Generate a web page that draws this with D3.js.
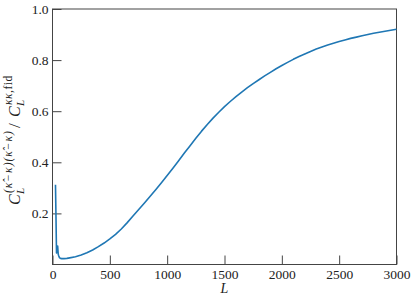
<!DOCTYPE html>
<html>
<head>
<meta charset="utf-8">
<script src="https://cdn.jsdelivr.net/npm/d3@7"></script>
<style>
  body { margin: 0; background: #fff; }
</style>
</head>
<body>
<svg id="chart" width="415" height="305"></svg>
<script>
'use strict'

// multipole L and the ratio
var ells  = [26, 30, 35, 40, 45, 50, 55, 62, 70, 80, 100, 125, 150,
             200, 250, 300, 350, 400, 450, 500, 550, 600, 650, 700, 750,
             800, 850, 900, 950, 1000, 1050, 1100, 1150, 1200, 1250, 1300,
             1350, 1400, 1450, 1500, 1550, 1600, 1650, 1700, 1750, 1800,
             1850, 1900, 1950, 2000, 2050, 2100, 2150, 2200, 2250, 2300,
             2350, 2400, 2450, 2500, 2550, 2600, 2650, 2700, 2750, 2800,
             2850, 2900, 2950, 3000]
var ratio = [0.312, 0.200, 0.045, 0.052, 0.072, 0.040, 0.033, 0.026, 0.024, 0.023, 0.023, 0.024, 0.026,
             0.030, 0.037, 0.046, 0.057, 0.070, 0.084, 0.100, 0.118, 0.139, 0.163, 0.189, 0.214,
             0.240, 0.266, 0.293, 0.320, 0.348, 0.377, 0.406, 0.436, 0.465, 0.494, 0.522,
             0.548, 0.573, 0.596, 0.618, 0.638, 0.657, 0.675, 0.692, 0.708, 0.723,
             0.738, 0.752, 0.766, 0.779, 0.791, 0.803, 0.814, 0.824, 0.834, 0.843,
             0.851, 0.859, 0.866, 0.873, 0.879, 0.885, 0.890, 0.895, 0.900, 0.905,
             0.909, 0.913, 0.917, 0.921]

var xTicks = [0, 500, 1000, 1500, 2000, 2500, 3000]
var yTicks = [0.2, 0.4, 0.6, 0.8, 1.0]

var serif = '"Liberation Serif", "DejaVu Serif", serif'

var svg = d3.select("#chart"),
    margin = {top: 9, right: 18.5, bottom: 40.5, left: 52.5},
    width = svg.attr("width") - margin.left - margin.right,
    height = svg.attr("height") - margin.top - margin.bottom;

var g = svg.append("g")
    .attr("transform", "translate(" + margin.left + "," + margin.top + ")");

var x = d3.scaleLinear().domain([0, 3000]).range([0, width])
var y = d3.scaleLinear().domain([0, 1]).range([height, 0])

var axisColor = "#444"

// bottom axis, ticks pointing in
var xAxis = g.append("g")
    .attr("transform", "translate(0," + height + ")")
    .call(d3.axisBottom(x).tickValues(xTicks).tickFormat(d3.format("d"))
      .tickSizeInner(-9).tickSizeOuter(0).tickPadding(5))
xAxis.select(".domain").remove()
xAxis.selectAll("line").attr("stroke", axisColor)
xAxis.selectAll("text")
    .style("font-family", serif).style("font-size", "13.5px").attr("fill", "#222")

// left axis
var yAxis = g.append("g")
    .call(d3.axisLeft(y).tickValues(yTicks).tickFormat(d3.format(".1f"))
      .tickSizeInner(-9).tickSizeOuter(0).tickPadding(4))
yAxis.select(".domain").remove()
yAxis.selectAll("line").attr("stroke", axisColor)
yAxis.selectAll("text")
    .style("font-family", serif).style("font-size", "13.5px").attr("fill", "#222")

// frame
g.append("rect")
    .attr("width", width)
    .attr("height", height)
    .attr("fill", "none")
    .attr("stroke", axisColor)
    .attr("stroke-width", 1)

// the curve
var pts = ells.map((l, i) => [l, ratio[i]])
var line = d3.line().x(d => x(d[0])).y(d => y(d[1]))

g.append("path")
    .datum(pts)
    .attr("d", line)
    .attr("fill", "none")
    .attr("stroke", "#1f77b4")
    .attr("stroke-width", 1.6)
    .attr("stroke-linejoin", "round")

// x label
svg.append("text")
    .attr("x", margin.left + width / 2)
    .attr("y", 293)
    .attr("text-anchor", "middle")
    .style("font-family", serif)
    .style("font-size", "14px")
    .style("font-style", "italic")
    .attr("fill", "#222")
    .text("L")

// y label, built piece by piece like mathtext
var yl = svg.append("g")
    .attr("transform", "translate(20,205) rotate(-90)")

function piece(txt, px, py, size, italic, spacing) {
  return yl.append("text")
    .attr("x", px).attr("y", py)
    .attr("fill", "#222")
    .style("font-family", serif)
    .style("font-size", size + "px")
    .style("font-style", italic ? "italic" : "normal")
    .style("letter-spacing", (spacing || 0) + "px")
    .text(txt)
}

piece("C", 0, 0, 16, true)
piece("L", 11, 4, 11, true)
piece("(\u03BA\u0302\u2212\u03BA)(\u03BA\u0302\u2212\u03BA)", 12, -8, 11.5, true, 1)
piece("/", 77, 0, 17, false)
piece("C", 88, 0, 16, true)
piece("L", 99, 4, 11, true)
var sup2 = piece("\u03BA\u03BA,", 100, -8, 11.5, true, 0.5)
sup2.append("tspan").style("font-style", "normal").text("fid")
</script>
</body>
</html>
